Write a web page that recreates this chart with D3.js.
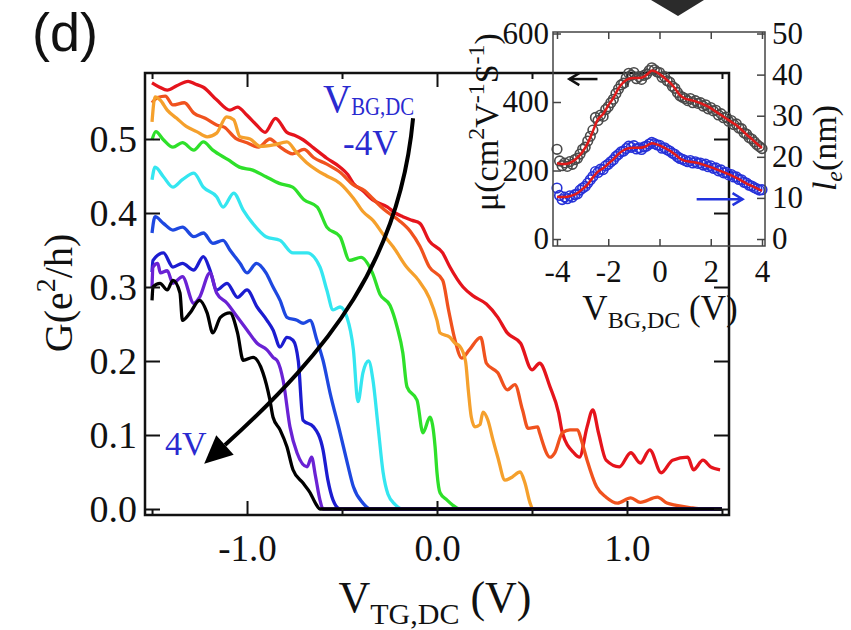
<!DOCTYPE html>
<html>
<head>
<meta charset="utf-8">
<script src="https://cdn.jsdelivr.net/npm/d3@7"></script>
<style>
  body { margin: 0; background: #fff; }
</style>
</head>
<body>
<svg id="chart" width="851" height="630"></svg>
<script>
// ---- Main panel: G vs V_TG,DC, one curve per back-gate voltage ----
const bgLabels = [-4, -3, -2, -1, 0, 1, 2, 3, 4];
const bgColors = ["#e5141c", "#f0521e", "#f5a02c", "#2ee02a", "#34e6f0", "#1e48e0", "#1c1cd0", "#6a22d4", "#000000"];

const curveM4 = [[-1.50,0.576],[-1.46,0.570],[-1.42,0.566],[-1.37,0.572],[-1.31,0.578],[-1.27,0.574],[-1.23,0.570],[-1.16,0.553],[-1.09,0.539],[-1.05,0.543],[-1.00,0.532],[-0.95,0.519],[-0.905,0.509],[-0.85,0.528],[-0.79,0.509],[-0.75,0.505],[-0.705,0.499],[-0.65,0.488],[-0.58,0.474],[-0.51,0.462],[-0.47,0.452],[-0.44,0.440],[-0.39,0.430],[-0.34,0.418],[-0.26,0.408],[-0.22,0.400],[-0.18,0.395],[-0.13,0.390],[-0.09,0.386],[-0.04,0.362],[0.03,0.346],[0.068,0.327],[0.137,0.300],[0.19,0.288],[0.26,0.277],[0.32,0.259],[0.37,0.238],[0.44,0.224],[0.50,0.188],[0.54,0.197],[0.595,0.165],[0.64,0.130],[0.66,0.103],[0.72,0.076],[0.75,0.070],[0.79,0.111],[0.82,0.134],[0.85,0.103],[0.89,0.066],[0.96,0.057],[1.02,0.076],[1.07,0.062],[1.12,0.080],[1.18,0.049],[1.24,0.066],[1.32,0.070],[1.35,0.053],[1.40,0.066],[1.44,0.057],[1.49,0.053]];
const curveM3 = [[-1.50,0.549],[-1.47,0.556],[-1.43,0.558],[-1.39,0.546],[-1.33,0.549],[-1.28,0.535],[-1.22,0.528],[-1.16,0.519],[-1.12,0.516],[-1.06,0.501],[-1.00,0.495],[-0.94,0.489],[-0.88,0.500],[-0.83,0.490],[-0.76,0.480],[-0.70,0.486],[-0.65,0.475],[-0.58,0.466],[-0.51,0.455],[-0.44,0.438],[-0.38,0.430],[-0.34,0.420],[-0.28,0.405],[-0.20,0.390],[-0.14,0.375],[-0.09,0.355],[-0.04,0.327],[0.03,0.309],[0.06,0.270],[0.095,0.228],[0.13,0.204],[0.17,0.215],[0.23,0.232],[0.26,0.197],[0.32,0.184],[0.37,0.161],[0.41,0.168],[0.45,0.134],[0.48,0.109],[0.53,0.111],[0.54,0.103],[0.595,0.070],[0.62,0.076],[0.66,0.103],[0.70,0.107],[0.74,0.107],[0.76,0.093],[0.79,0.066],[0.84,0.030],[0.89,0.016],[0.95,0.008],[1.02,0.015],[1.07,0.009],[1.16,0.016],[1.21,0.008],[1.26,0.005],[1.33,0.002],[1.40,0.0],[1.50,0.0]];
const curveM2 = [[-1.50,0.523],[-1.484,0.557],[-1.458,0.553],[-1.42,0.539],[-1.37,0.528],[-1.32,0.517],[-1.265,0.510],[-1.21,0.503],[-1.16,0.508],[-1.107,0.530],[-1.07,0.526],[-1.037,0.503],[-0.984,0.500],[-0.93,0.490],[-0.86,0.492],[-0.79,0.496],[-0.74,0.482],[-0.686,0.468],[-0.633,0.458],[-0.58,0.450],[-0.51,0.440],[-0.44,0.420],[-0.39,0.402],[-0.337,0.390],[-0.28,0.370],[-0.23,0.354],[-0.16,0.327],[-0.10,0.310],[-0.04,0.285],[0.0,0.255],[0.016,0.238],[0.068,0.232],[0.095,0.224],[0.12,0.220],[0.15,0.200],[0.165,0.160],[0.18,0.125],[0.20,0.111],[0.226,0.114],[0.242,0.131],[0.268,0.120],[0.295,0.093],[0.32,0.070],[0.358,0.039],[0.395,0.043],[0.437,0.050],[0.463,0.035],[0.49,0.008],[0.505,0.0],[1.50,0.0]];
const curveM1 = [[-1.50,0.499],[-1.48,0.510],[-1.44,0.499],[-1.39,0.489],[-1.34,0.495],[-1.28,0.485],[-1.23,0.496],[-1.18,0.485],[-1.10,0.472],[-1.04,0.462],[-0.97,0.458],[-0.90,0.449],[-0.83,0.440],[-0.76,0.435],[-0.70,0.418],[-0.63,0.408],[-0.58,0.381],[-0.51,0.368],[-0.46,0.336],[-0.40,0.340],[-0.34,0.319],[-0.30,0.290],[-0.247,0.275],[-0.21,0.246],[-0.18,0.211],[-0.158,0.165],[-0.105,0.147],[-0.074,0.103],[-0.037,0.124],[-0.01,0.084],[0.0,0.049],[0.016,0.022],[0.053,0.012],[0.084,0.005],[0.12,0.0],[1.50,0.0]];
const curve0 = [[-1.50,0.445],[-1.484,0.462],[-1.44,0.449],[-1.39,0.435],[-1.34,0.445],[-1.28,0.454],[-1.23,0.435],[-1.16,0.422],[-1.126,0.408],[-1.07,0.427],[-1.02,0.404],[-0.97,0.386],[-0.90,0.368],[-0.826,0.363],[-0.758,0.346],[-0.684,0.346],[-0.616,0.327],[-0.58,0.296],[-0.547,0.269],[-0.51,0.273],[-0.474,0.259],[-0.44,0.215],[-0.416,0.145],[-0.39,0.184],[-0.36,0.200],[-0.337,0.174],[-0.31,0.111],[-0.284,0.050],[-0.258,0.020],[-0.22,0.006],[-0.18,0.0],[1.50,0.0]];
const curveP1 = [[-1.50,0.373],[-1.484,0.395],[-1.44,0.386],[-1.39,0.377],[-1.34,0.381],[-1.28,0.368],[-1.23,0.373],[-1.18,0.359],[-1.126,0.363],[-1.09,0.350],[-1.037,0.332],[-1.00,0.319],[-0.95,0.332],[-0.90,0.319],[-0.863,0.300],[-0.826,0.282],[-0.79,0.259],[-0.737,0.255],[-0.705,0.251],[-0.668,0.255],[-0.632,0.228],[-0.60,0.201],[-0.563,0.157],[-0.51,0.103],[-0.47,0.060],[-0.44,0.030],[-0.39,0.008],[-0.35,0.0],[1.50,0.0]];
const curveP2 = [[-1.50,0.320],[-1.495,0.336],[-1.44,0.346],[-1.39,0.327],[-1.34,0.332],[-1.28,0.323],[-1.23,0.341],[-1.195,0.323],[-1.16,0.296],[-1.105,0.305],[-1.05,0.286],[-1.00,0.296],[-0.947,0.273],[-0.895,0.255],[-0.863,0.242],[-0.826,0.219],[-0.79,0.232],[-0.758,0.228],[-0.73,0.200],[-0.705,0.120],[-0.65,0.111],[-0.60,0.080],[-0.575,0.040],[-0.547,0.012],[-0.51,0.0],[1.50,0.0]];
const curveP3 = [[-1.50,0.300],[-1.495,0.327],[-1.47,0.332],[-1.456,0.319],[-1.42,0.322],[-1.39,0.305],[-1.34,0.314],[-1.28,0.278],[-1.25,0.286],[-1.195,0.319],[-1.16,0.292],[-1.105,0.278],[-1.05,0.259],[-1.00,0.242],[-0.947,0.224],[-0.895,0.215],[-0.863,0.205],[-0.84,0.200],[-0.81,0.174],[-0.774,0.111],[-0.737,0.076],[-0.684,0.057],[-0.66,0.070],[-0.64,0.045],[-0.616,0.012],[-0.60,0.0],[1.50,0.0]];
const curveP4 = [[-1.50,0.282],[-1.495,0.300],[-1.458,0.305],[-1.42,0.296],[-1.39,0.309],[-1.353,0.292],[-1.34,0.255],[-1.30,0.265],[-1.25,0.282],[-1.21,0.265],[-1.18,0.238],[-1.14,0.259],[-1.09,0.265],[-1.05,0.238],[-1.02,0.201],[-0.968,0.205],[-0.916,0.184],[-0.88,0.148],[-0.863,0.124],[-0.826,0.107],[-0.79,0.084],[-0.758,0.053],[-0.705,0.035],[-0.668,0.022],[-0.64,0.008],[-0.616,0.0],[1.50,0.0]];
const allCurves = [curveM4, curveM3, curveM2, curveM1, curve0, curveP1, curveP2, curveP3, curveP4];

const xTicks = [-1.5, -1.0, -0.5, 0.0, 0.5, 1.0, 1.5];
const yTicks = [0.0, 0.1, 0.2, 0.3, 0.4, 0.5];

// sweep arrow (V_TG, G) from -4V towards 4V
const sweepArrow = [[-0.126, 0.528], [-0.195, 0.336], [-0.563, 0.215], [-1.116, 0.0865]];

// ---- Inset: mobility and mean free path vs V_BG,DC ----
const bgSweep = [-4.0,-3.9,-3.8,-3.7,-3.6,-3.5,-3.4,-3.3,-3.2,-3.1,-3.0,-2.9,-2.8,-2.7,-2.6,-2.5,-2.4,-2.3,-2.2,-2.1,-2.0,-1.9,-1.8,-1.7,-1.6,-1.5,-1.4,-1.3,-1.2,-1.1,-1.0,-0.9,-0.8,-0.7,-0.6,-0.5,-0.4,-0.3,-0.2,-0.1,0.0,0.1,0.2,0.3,0.4,0.5,0.6,0.7,0.8,0.9,1.0,1.1,1.2,1.3,1.4,1.5,1.6,1.7,1.8,1.9,2.0,2.1,2.2,2.3,2.4,2.5,2.6,2.7,2.8,2.9,3.0,3.1,3.2,3.3,3.4,3.5,3.6,3.7,3.8,3.9,4.0];
const muPts = [262,228,214,222,212,226,218,232,236,248,262,268,286,300,318,355,346,362,358,378,386,398,408,425,438,450,455,470,484,478,486,468,474,466,478,482,492,500,494,488,486,472,474,462,458,446,440,428,418,414,410,404,410,398,404,396,398,388,392,380,384,374,376,362,366,354,356,344,346,334,336,324,322,310,306,296,292,284,276,270,264];
const lePts = [12.4,10.6,9.6,10.2,9.8,10.5,10.2,10.8,11.0,11.9,12.4,12.8,13.6,14.4,15.2,16.4,16.2,17.0,16.9,17.8,18.2,18.8,19.3,20.1,20.6,21.2,21.4,22.0,22.6,22.3,22.7,21.9,22.2,21.8,22.4,22.6,23.1,23.5,23.2,22.9,22.8,22.1,22.2,21.7,21.4,20.9,20.6,20.0,19.6,19.4,19.1,18.8,19.1,18.5,18.8,18.4,18.5,18.0,18.2,17.6,17.8,17.2,17.3,16.6,16.8,16.1,16.2,15.6,15.7,15.1,15.1,14.5,14.4,13.8,13.6,13.1,12.9,12.5,12.2,11.9,12.0];
const fitV  = [-4.0,-3.8,-3.6,-3.4,-3.2,-3.0,-2.8,-2.6,-2.4,-2.2,-2.0,-1.8,-1.6,-1.4,-1.2,-1.0,-0.8,-0.6,-0.4,-0.3,-0.2,0.0,0.2,0.4,0.6,0.8,1.0,1.2,1.4,1.6,1.8,2.0,2.2,2.4,2.6,2.8,3.0,3.2,3.4,3.6,3.8,4.0];
const fitMu = [221,219,220,226,238,255,280,315,350,365,390,412,440,458,468,470,470,474,486,492,490,482,470,457,440,420,410,406,402,397,390,382,372,362,352,342,332,319,305,292,278,266];
const fitLe = [10.3,10.2,10.3,10.6,11.2,12.2,13.3,15.0,16.4,17.2,18.3,19.4,20.7,21.6,22.1,22.2,22.2,22.4,23.0,23.3,23.2,22.8,22.2,21.5,20.6,19.6,19.0,18.8,18.6,18.3,17.9,17.5,17.0,16.5,16.0,15.5,14.9,14.2,13.5,12.9,12.3,11.7];
const insetXTicks = [-4, -2, 0, 2, 4];
const muTicks = [0, 200, 400, 600];
const leTicks = [0, 10, 20, 30, 40, 50];

// ------------------------------------------------------------------
const serif = '"Liberation Serif", "Times New Roman", serif';
const svg = d3.select("#chart").attr("font-family", serif);
const annBlue = "#2a2ad0";

// Main scales
const x = d3.scaleLinear().domain([-1.537, 1.537]).range([145, 729]);
const y = d3.scaleLinear().domain([-0.0081, 0.5892]).range([515, 73]);

// Curves (monotone so the flat zero tails stay flat)
const line = d3.line().x(d => x(d[0])).y(d => y(d[1])).curve(d3.curveMonotoneX);
svg.append("g")
  .selectAll("path")
  .data(allCurves)
  .join("path")
  .attr("d", line)
  .attr("fill", "none")
  .attr("stroke", (d, i) => bgColors[i])
  .attr("stroke-width", 3.3)
  .attr("stroke-linejoin", "round");

// Axes, ticks pointing inward
const isMajor = d => Math.abs(d - Math.round(d)) < 1e-9;
const styleAxis = (g, size) => {
  g.select(".domain").remove();
  g.attr("font-family", serif).attr("font-size", size);
  g.selectAll(".tick line").attr("stroke", "#111").attr("stroke-width", 2);
  g.selectAll(".tick text").attr("fill", "#111");
};

svg.append("g")
  .attr("transform", `translate(0,${y.range()[0]})`)
  .call(d3.axisBottom(x).tickValues(xTicks).tickSizeInner(-14).tickSizeOuter(0).tickPadding(20)
    .tickFormat(d => isMajor(d) ? d.toFixed(1) : ""))
  .call(g => styleAxis(g, 37))
  .call(g => g.selectAll(".tick line").attr("y2", d => isMajor(d) ? -14 : -6));

svg.append("g")
  .attr("transform", `translate(0,${y.range()[1]})`)
  .call(d3.axisTop(x).tickValues(xTicks).tickSizeInner(-14).tickSizeOuter(0).tickFormat(""))
  .call(g => styleAxis(g, 37))
  .call(g => g.selectAll(".tick line").attr("y2", d => isMajor(d) ? 14 : 6));

svg.append("g")
  .attr("transform", `translate(${x.range()[0]},0)`)
  .call(d3.axisLeft(y).tickValues(yTicks).tickSizeInner(-15).tickSizeOuter(0).tickPadding(8)
    .tickFormat(d => d.toFixed(1)))
  .call(g => styleAxis(g, 38));

svg.append("g")
  .attr("transform", `translate(${x.range()[1]},0)`)
  .call(d3.axisRight(y).tickValues(yTicks).tickSizeInner(-15).tickSizeOuter(0).tickFormat(""))
  .call(g => styleAxis(g, 37));

svg.append("rect")
  .attr("x", x.range()[0]).attr("y", y.range()[1])
  .attr("width", x.range()[1] - x.range()[0]).attr("height", y.range()[0] - y.range()[1])
  .attr("fill", "none").attr("stroke", "#111").attr("stroke-width", 2.5);

// Axis titles
const yTitle = svg.append("text")
  .attr("transform", "translate(72,293) rotate(-90)")
  .attr("text-anchor", "middle").attr("font-size", 40).attr("fill", "#111");
yTitle.append("tspan").text("G(e");
yTitle.append("tspan").attr("font-size", 28).attr("dy", -17).text("2");
yTitle.append("tspan").attr("dy", 17).text("/h)");

const xTitle = svg.append("text")
  .attr("x", 435).attr("y", 612)
  .attr("text-anchor", "middle").attr("font-size", 44).attr("fill", "#111");
xTitle.append("tspan").text("V");
xTitle.append("tspan").attr("font-size", 30).attr("dy", 12).text("TG,DC");
xTitle.append("tspan").attr("dy", -12).text(" (V)");

// Panel label
svg.append("text")
  .attr("x", 32).attr("y", 51)
  .attr("font-family", '"Liberation Sans", Arial, sans-serif')
  .attr("font-size", 54).attr("fill", "#111")
  .text("(d)");

// Sweep arrow across the curves
const sa = sweepArrow.map(p => [x(p[0]), y(p[1])]);
const ap = d3.path();
ap.moveTo(sa[0][0], sa[0][1]);
ap.bezierCurveTo(sa[1][0], sa[1][1], sa[2][0], sa[2][1], sa[3][0], sa[3][1]);
svg.append("path").attr("d", ap.toString())
  .attr("fill", "none").attr("stroke", "#000").attr("stroke-width", 4);

const arrowHead = (from, to, len, wid) => {
  const dx = to[0] - from[0], dy = to[1] - from[1];
  const n = Math.hypot(dx, dy), ux = dx / n, uy = dy / n;
  const tip = [to[0] + ux * len, to[1] + uy * len];
  return [tip, [to[0] - uy * wid / 2, to[1] + ux * wid / 2], [to[0] + uy * wid / 2, to[1] - ux * wid / 2]];
};
svg.append("polygon")
  .attr("points", arrowHead(sa[2], sa[3], 28, 26).map(p => p.join(",")).join(" "))
  .attr("fill", "#000");

// Annotations
const bgTxt = svg.append("text").attr("x", 323).attr("y", 112).attr("fill", annBlue).attr("font-size", 39);
bgTxt.append("tspan").text("V");
bgTxt.append("tspan").attr("font-size", 25).attr("dy", 3)
  .attr("textLength", 63).attr("lengthAdjust", "spacingAndGlyphs").text("BG,DC");
svg.append("text").attr("x", 343).attr("y", 155).attr("fill", annBlue).attr("font-size", 35).text("-4V");
svg.append("text").attr("x", 165).attr("y", 455).attr("fill", annBlue).attr("font-size", 34).text("4V");

// Piece of the figure above
svg.append("polygon")
  .attr("points", "651,0 704,0 678,16")
  .attr("fill", "#2b2b2b");

// ---- Inset ----
const ix = d3.scaleLinear().domain([-4.156, 4.117]).range([553, 765]);
const iyL = d3.scaleLinear().domain([-20.4, 604.4]).range([246, 32]);
const iyR = d3.scaleLinear().domain([-1.7, 50.37]).range([246, 32]);
const inset = svg.append("g");

inset.append("g").selectAll("circle")
  .data(bgSweep.map((v, i) => [v, muPts[i]]))
  .join("circle")
  .attr("cx", d => ix(d[0])).attr("cy", d => iyL(d[1])).attr("r", 4.8)
  .attr("fill", "none").attr("stroke", "#4a4a4a").attr("stroke-width", 1.6);

inset.append("g").selectAll("circle")
  .data(bgSweep.map((v, i) => [v, lePts[i]]))
  .join("circle")
  .attr("cx", d => ix(d[0])).attr("cy", d => iyR(d[1])).attr("r", 4.8)
  .attr("fill", "none").attr("stroke", "#2632d8").attr("stroke-width", 1.6);

inset.append("path")
  .attr("d", d3.line().x(d => ix(d[0])).y(d => iyL(d[1])).curve(d3.curveMonotoneX)(fitV.map((v, i) => [v, fitMu[i]])))
  .attr("fill", "none").attr("stroke", "#e01a1a").attr("stroke-width", 2.5);
inset.append("path")
  .attr("d", d3.line().x(d => ix(d[0])).y(d => iyR(d[1])).curve(d3.curveMonotoneX)(fitV.map((v, i) => [v, fitLe[i]])))
  .attr("fill", "none").attr("stroke", "#e01a1a").attr("stroke-width", 2.5);

const styleInset = g => {
  g.select(".domain").remove();
  g.attr("font-family", serif).attr("font-size", 31);
  g.selectAll(".tick line").attr("stroke", "#444").attr("stroke-width", 1.5);
  g.selectAll(".tick text").attr("fill", "#111");
};
inset.append("g").attr("transform", "translate(0,246)")
  .call(d3.axisBottom(ix).tickValues(insetXTicks).tickSizeInner(-7).tickSizeOuter(0).tickPadding(14).tickFormat(d => String(d)))
  .call(styleInset);
inset.append("g").attr("transform", "translate(0,32)")
  .call(d3.axisTop(ix).tickValues(insetXTicks).tickSizeInner(-7).tickSizeOuter(0).tickFormat(""))
  .call(styleInset);
inset.append("g").attr("transform", "translate(553,0)")
  .call(d3.axisLeft(iyL).tickValues(muTicks).tickSizeInner(-8).tickSizeOuter(0).tickPadding(4).tickFormat(d => String(d)))
  .call(styleInset);
inset.append("g").attr("transform", "translate(765,0)")
  .call(d3.axisRight(iyR).tickValues(leTicks).tickSizeInner(-8).tickSizeOuter(0).tickPadding(7).tickFormat(d => String(d)))
  .call(styleInset);
inset.append("rect")
  .attr("x", 553).attr("y", 32).attr("width", 212).attr("height", 214)
  .attr("fill", "none").attr("stroke", "#444").attr("stroke-width", 1.5);

// Inset axis titles
const muTitle = inset.append("text")
  .attr("transform", "translate(498,122) rotate(-90)")
  .attr("text-anchor", "middle").attr("font-size", 34).attr("fill", "#111");
muTitle.append("tspan").text("μ(cm");
muTitle.append("tspan").attr("font-size", 24).attr("dy", -14).text("2");
muTitle.append("tspan").attr("dy", 14).text("V");
muTitle.append("tspan").attr("font-size", 24).attr("dy", -14).text("-1");
muTitle.append("tspan").attr("dy", 14).text("S");
muTitle.append("tspan").attr("font-size", 24).attr("dy", -14).text("-1");
muTitle.append("tspan").attr("dy", 14).text(")");

const leTitle = inset.append("text")
  .attr("transform", "translate(836,148) rotate(-90)")
  .attr("text-anchor", "middle").attr("font-size", 34).attr("fill", "#111");
leTitle.append("tspan").attr("font-style", "italic").text("l");
leTitle.append("tspan").attr("font-style", "italic").attr("font-size", 24).attr("dy", 6).text("e");
leTitle.append("tspan").attr("dy", -6).text("(nm)");

const ixTitle = inset.append("text")
  .attr("x", 660).attr("y", 320)
  .attr("text-anchor", "middle").attr("font-size", 35).attr("fill", "#111");
ixTitle.append("tspan").text("V");
ixTitle.append("tspan").attr("font-size", 24).attr("dy", 8).text("BG,DC");
ixTitle.append("tspan").attr("dy", -8).text(" (V)");

// Inset arrows pointing to each axis
const chevron = (x0, x1, yy, color) => {
  const dir = Math.sign(x1 - x0);
  inset.append("line").attr("x1", x0).attr("x2", x1).attr("y1", yy).attr("y2", yy)
    .attr("stroke", color).attr("stroke-width", 2.5);
  inset.append("path")
    .attr("d", `M${x1 - dir * 10},${yy - 6} L${x1},${yy} L${x1 - dir * 10},${yy + 6}`)
    .attr("fill", "none").attr("stroke", color).attr("stroke-width", 2.5);
};
chevron(ix(-2.42), ix(-3.52), iyL(467), "#111");
chevron(ix(1.45), ix(3.24), iyR(9.7), "#2233dd");
</script>
</body>
</html>
